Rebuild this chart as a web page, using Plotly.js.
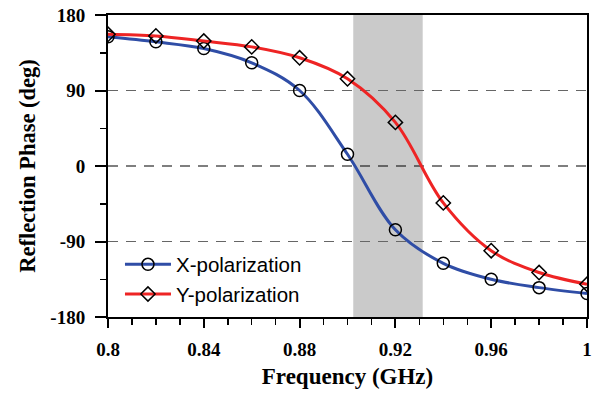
<!DOCTYPE html>
<html><head><meta charset="utf-8">
<script src="https://cdn.plot.ly/plotly-3.0.1.min.js"></script>
<style>html,body{margin:0;padding:0;background:#fff}#chart{width:594px;height:393px}</style>
</head><body><div id="chart"></div>
<script>
const freq = [0.80, 0.82, 0.84, 0.86, 0.88, 0.90, 0.92, 0.94, 0.96, 0.98, 1.00];
const xPol = [154, 148, 140, 123, 90, 14, -76, -116, -135, -145, -152];
const yPol = [157, 155, 149, 142, 129, 104, 52, -44, -101, -127, -141];
const bandStart = 0.9024, bandEnd = 0.9314;
const yTickVals = [-180, -90, 0, 90, 180];
const yTickText = ['-180', '-90', '0', '90', '180'];
const xTickVals = [0.8, 0.84, 0.88, 0.92, 0.96, 1.0];
const xTickText = ['0.8', '0.84', '0.88', '0.92', '0.96', '1'];
const dashLevels = [90, 0, -90];

const serifFam = 'Liberation Serif, Times New Roman, serif';
const tickFont = {family: serifFam, size: 19, color: '#000', weight: 'bold'};
const traces = [
  {x: freq, y: xPol, name: 'X-polarization', mode: 'lines+markers',
   line: {color: '#2f4da6', width: 3, shape: 'spline', smoothing: 1},
   marker: {symbol: 'circle-open', color: '#000', size: 12, line: {width: 1.5}}},
  {x: freq, y: yPol, name: 'Y-polarization', mode: 'lines+markers',
   line: {color: '#ee2424', width: 3, shape: 'spline', smoothing: 1},
   marker: {symbol: 'diamond-open', color: '#000', size: 11, line: {width: 1.5}}}
];
const shapes = [
  {type: 'rect', xref: 'x', yref: 'paper', x0: bandStart, x1: bandEnd, y0: 0, y1: 1,
   fillcolor: '#cacaca', line: {width: 0}, layer: 'below'}
].concat(dashLevels.map(v => ({type: 'line', xref: 'paper', yref: 'y', x0: 0, x1: 1, y0: v, y1: v,
   line: {color: v === 0 ? '#000' : '#666', width: 1.2, dash: '10px,8px'}, layer: 'below'})));

const layout = {
  width: 594, height: 393,
  margin: {l: 108, r: 7, t: 15, b: 76},
  paper_bgcolor: '#fff', plot_bgcolor: 'rgba(0,0,0,0)',
  showlegend: true,
  legend: {x: 0.025, y: 0.24, xanchor: 'left', yanchor: 'top', bgcolor: 'rgba(0,0,0,0)', itemwidth: 46,
           font: {family: 'Liberation Sans, Arial, sans-serif', size: 20.5, color: '#000'}, tracegroupgap: 0},
  xaxis: {range: [0.8, 1.0], tickvals: xTickVals, ticktext: xTickText,
          showgrid: false, zeroline: false, showline: true, linecolor: '#000', linewidth: 2, mirror: true,
          ticks: 'outside', ticklen: 9, tickwidth: 2, tickcolor: '#000', tickfont: tickFont, ticklabelstandoff: 5,
          minor: {dtick: 0.01, tick0: 0.8, ticks: 'outside', ticklen: 6, tickwidth: 1.5, tickcolor: '#000', showgrid: false},
          title: {text: 'Frequency (GHz)', font: {family: serifFam, size: 23, color: '#000', weight: 'bold'}, standoff: 9}},
  yaxis: {range: [-180, 180], tickvals: yTickVals, ticktext: yTickText,
          showgrid: false, zeroline: false, showline: true, linecolor: '#000', linewidth: 2, mirror: true,
          ticks: 'outside', ticklen: 11, tickwidth: 2, tickcolor: '#000', tickfont: tickFont, ticklabelstandoff: 6,
          minor: {dtick: 45, tick0: -180, ticks: 'outside', ticklen: 6, tickwidth: 1.5, tickcolor: '#000', showgrid: false},
          title: {text: 'Reflection Phase (deg)', font: {family: serifFam, size: 22.5, color: '#000', weight: 'bold'}, standoff: 8}},
  shapes: shapes
};
Plotly.newPlot('chart', traces, layout, {staticPlot: true, displayModeBar: false});
</script></body></html>
